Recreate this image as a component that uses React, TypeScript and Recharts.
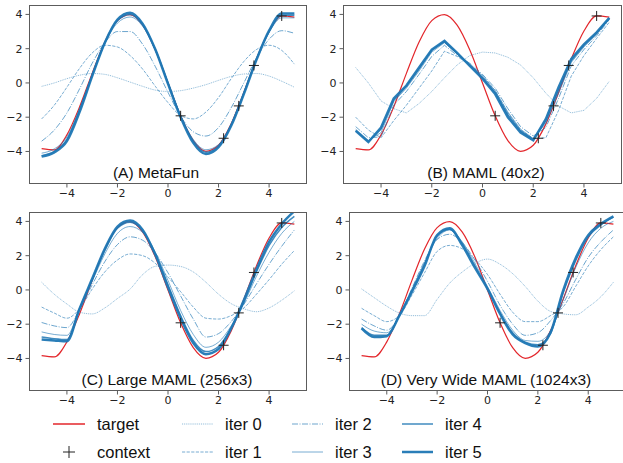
import { ComposedChart, Line, Scatter, XAxis, YAxis } from "recharts";

// sample grid shared by every curve
const xs = [-5, -4.5, -4, -3.5, -3, -2.5, -2, -1.5, -1, -0.5, 0, 0.5, 1, 1.5, 2, 2.5, 3, 3.5, 4, 4.5, 5];

const target = [-3.84, -3.91, -3.03, -1.4, 0.56, 2.39, 3.64, 3.99, 3.37, 1.92, 0, -1.92, -3.37, -3.99, -3.64, -2.39, -0.56, 1.4, 3.03, 3.91, 3.84];

const contextX = [0.5, 2.2, 2.8, 3.4, 4.5];
const contextY = [-1.92, -3.23, -1.34, 1.02, 3.91];

// (A) MetaFun
const metaFunIter0 = [-0.2, 0.0, 0.25, 0.45, 0.55, 0.5, 0.3, 0.05, -0.2, -0.42, -0.5, -0.45, -0.3, -0.1, 0.15, 0.38, 0.52, 0.55, 0.4, 0.1, -0.25];
const metaFunIter1 = [-2.1, -1.3, -0.25, 0.85, 1.75, 2.2, 2.1, 1.6, 0.8, -0.2, -1.15, -1.9, -2.1, -1.7, -0.85, 0.25, 1.25, 1.95, 2.2, 1.9, 1.1];
const metaFunIter2 = [-3.4, -2.75, -1.75, -0.35, 1.15, 2.35, 3.0, 3.0, 2.25, 0.95, -0.55, -1.95, -2.85, -3.1, -2.6, -1.45, 0.0, 1.45, 2.55, 3.05, 2.9];
const metaFunIter3 = [-4.1, -3.85, -3.15, -1.5, 0.45, 2.3, 3.5, 3.85, 3.3, 1.9, 0.0, -1.9, -3.3, -3.9, -3.6, -2.4, -0.6, 1.35, 2.95, 3.8, 3.8];
const metaFunIter4 = [-4.25, -4.0, -3.3, -1.6, 0.45, 2.35, 3.65, 4.0, 3.4, 1.95, 0.0, -1.95, -3.4, -4.05, -3.7, -2.45, -0.6, 1.4, 3.0, 3.95, 3.95];
const metaFunIter5 = [-4.3, -4.05, -3.4, -1.7, 0.4, 2.35, 3.7, 4.1, 3.45, 1.95, -0.05, -2.0, -3.5, -4.15, -3.75, -2.5, -0.65, 1.35, 3.05, 4.05, 4.05];

// (B) MAML (40x2)
const mamlIter0 = [0.9, 0.0, -1.05, -1.5, -1.75, -1.2, -0.5, 0.3, 1.05, 1.6, 1.8, 1.75, 1.5, 1.05, 0.3, -0.6, -1.35, -1.75, -1.6, -0.9, 0.1];
const mamlIter1 = [-2.0, -2.75, -3.2, -2.2, -1.3, -0.3, 0.7, 1.85, 1.55, 1.05, 0.45, -0.45, -1.75, -2.75, -3.25, -3.2, -1.6, 0.4, 1.6, 2.6, 3.55];
const mamlIter2 = [-2.55, -3.2, -3.15, -1.3, -0.5, 0.5, 1.55, 2.2, 1.6, 1.15, 0.5, -0.3, -1.5, -2.55, -3.1, -2.6, -0.9, 1.0, 1.95, 2.75, 3.7];
const mamlIter3 = [-2.7, -3.35, -2.9, -1.1, -0.3, 0.7, 1.8, 2.35, 1.7, 1.1, 0.4, -0.45, -1.7, -2.7, -3.25, -2.35, -0.6, 1.2, 2.1, 2.85, 3.75];
const mamlIter4 = [-2.78, -3.42, -2.7, -1.0, -0.2, 0.82, 1.9, 2.42, 1.72, 1.05, 0.3, -0.55, -1.85, -2.8, -3.3, -2.2, -0.4, 1.3, 2.2, 2.9, 3.78];
const mamlIter5 = [-2.8, -3.45, -2.6, -0.9, -0.15, 0.9, 1.95, 2.45, 1.75, 1.0, 0.25, -0.65, -2.0, -2.9, -3.35, -2.1, -0.25, 1.4, 2.25, 2.95, 3.8];

// (C) Large MAML (256x3)
const largeIter0 = [0.45, -0.25, -0.82, -1.3, -1.4, -1.05, -0.5, 0.05, 0.9, 1.38, 1.45, 1.37, 1.05, 0.45, -0.25, -0.8, -1.1, -1.27, -1.05, -0.6, -0.05];
const largeIter1 = [-1.0, -1.35, -1.65, -1.1, 0.05, 1.05, 1.75, 2.1, 2.0, 1.55, 0.75, -0.1, -1.0, -1.65, -1.7, -1.5, -1.05, -0.25, 0.6, 1.5, 2.3];
const largeIter2 = [-1.9, -2.1, -2.2, -1.15, 0.3, 1.65, 2.65, 3.1, 2.9, 2.15, 1.0, -0.35, -1.7, -2.75, -2.55, -1.85, -0.85, 0.35, 1.5, 2.55, 3.5];
const largeIter3 = [-2.45, -2.6, -2.65, -1.1, 0.5, 2.1, 3.3, 3.7, 3.35, 2.2, 0.55, -1.2, -2.6, -3.35, -3.05, -2.1, -0.8, 0.8, 2.2, 3.3, 4.0];
const largeIter4 = [-2.75, -2.85, -2.9, -1.1, 0.6, 2.3, 3.6, 3.95, 3.45, 2.1, 0.3, -1.5, -2.95, -3.6, -3.3, -2.2, -0.7, 1.05, 2.6, 3.65, 4.3];
const largeIter5 = [-2.9, -2.95, -3.0, -1.1, 0.65, 2.4, 3.7, 4.05, 3.5, 2.05, 0.15, -1.65, -3.1, -3.75, -3.45, -2.25, -0.6, 1.2, 2.8, 3.85, 4.6];

// (D) Very Wide MAML (1024x3)
const wideIter0 = [0.06, -0.45, -0.95, -1.35, -1.5, -1.5, -0.55, 0.4, 1.05, 1.55, 1.8, 1.5, 0.95, 0.2, -0.65, -1.25, -1.4, -1.45, -1.0, -0.4, 0.45];
const wideIter1 = [-1.07, -1.5, -1.85, -1.5, -0.3, 1.0, 2.25, 2.6, 2.4, 1.8, 0.9, -0.25, -1.3, -1.85, -1.85, -1.5, -1.0, 0.2, 1.4, 2.35, 3.1];
const wideIter2 = [-1.7, -2.1, -2.35, -1.5, 0.1, 1.7, 2.95, 3.25, 2.75, 1.75, 0.5, -0.9, -2.0, -2.65, -2.5, -1.8, -0.8, 0.6, 1.9, 2.8, 3.5];
const wideIter3 = [-2.0, -2.4, -2.5, -1.5, 0.05, 1.6, 3.0, 3.5, 2.8, 1.55, 0.2, -1.2, -2.35, -2.95, -3.0, -2.4, -0.6, 1.3, 2.75, 3.6, 4.0];
const wideIter4 = [-2.2, -2.65, -2.65, -1.5, -0.05, 1.5, 3.15, 3.55, 2.7, 1.4, 0.1, -1.35, -2.5, -3.05, -3.2, -2.55, -0.2, 1.7, 3.1, 3.8, 4.25];
const wideIter5 = [-2.25, -2.75, -2.7, -1.5, -0.1, 1.4, 3.2, 3.6, 2.6, 1.3, 0.06, -1.4, -2.6, -3.1, -3.3, -2.5, -0.05, 1.85, 3.2, 3.85, 4.3];

const ticks = [-4, -2, 0, 2, 4];

const BLUE = "#1f77b4";
const RED = "#e3262b";
const SPINE = "#5c5c5c";
const FONT = "'Liberation Sans', Arial, sans-serif";
const TICK_FONT = "'DejaVu Sans', sans-serif";

const iterStyles = [
  { dash: "1 0.9", opacity: 0.5, width: 1 },
  { dash: "3.2 1.4", opacity: 0.6, width: 1 },
  { dash: "6 1.5 1 1.5", opacity: 0.65, width: 1 },
  { dash: undefined, opacity: 0.6, width: 1 },
  { dash: undefined, opacity: 0.85, width: 1.5 },
  { dash: undefined, opacity: 0.95, width: 2.5 },
];

const fmt = (v: number) => (v < 0 ? "\u2212" + Math.abs(v) : String(v));

const Plus = (props: any) => {
  const { cx, cy } = props;
  if (cx == null || cy == null) return null;
  return (
    <path
      d={`M${cx - 5},${cy}H${cx + 5}M${cx},${cy - 5}V${cy + 5}`}
      stroke="#222"
      strokeWidth={1}
    />
  );
};

interface PanelProps {
  left: number;
  top: number;
  width: number;
  marginRight: number;
  iters: number[][];
  curve: "monotone" | "linear";
}

const HEIGHT = 205;

function Panel({ left, top, width, marginRight, iters, curve }: PanelProps) {
  const rows = xs.map((x, i) => {
    const row: Record<string, number> = { x, target: target[i] };
    iters.forEach((s, k) => (row["iter" + k] = s[i]));
    return row;
  });
  const context = contextX.map((x, i) => ({ x, y: contextY[i] }));
  const tickStyle = { fontSize: 11, fill: "#222", fontFamily: TICK_FONT };

  return (
    <div style={{ position: "absolute", left, top }}>
      <ComposedChart
        width={width}
        height={HEIGHT}
        data={rows}
        margin={{ top: 5, right: marginRight, left: 0, bottom: 0 }}
      >
        <XAxis
          type="number"
          dataKey="x"
          domain={[-5.5, 5.5]}
          ticks={ticks}
          interval={0}
          allowDataOverflow
          axisLine={false}
          tickLine={{ stroke: SPINE }}
          tickSize={3.5}
          tickMargin={2}
          height={21}
          tick={tickStyle}
          tickFormatter={fmt}
        />
        <YAxis
          type="number"
          domain={[-5.9, 4.55]}
          ticks={ticks}
          interval={0}
          allowDataOverflow
          axisLine={false}
          tickLine={{ stroke: SPINE }}
          tickSize={3.5}
          tickMargin={3}
          width={29}
          tick={tickStyle}
          tickFormatter={fmt}
        />
        <Line
          dataKey="target"
          type="monotone"
          stroke={RED}
          strokeWidth={1.2}
          dot={false}
          activeDot={false}
          isAnimationActive={false}
        />
        {iters.map((_, k) => (
          <Line
            key={k}
            dataKey={"iter" + k}
            type={curve}
            stroke={BLUE}
            strokeOpacity={iterStyles[k].opacity}
            strokeWidth={iterStyles[k].width}
            strokeDasharray={iterStyles[k].dash}
            dot={false}
            activeDot={false}
            isAnimationActive={false}
          />
        ))}
        <Scatter data={context} dataKey="y" shape={Plus} isAnimationActive={false} />
      </ComposedChart>
    </div>
  );
}

const panels = [
  { left: 0, top: 0, width: 310, marginRight: 3, curve: "monotone" as const, title: "(A) MetaFun", titleX: 156, iters: [metaFunIter0, metaFunIter1, metaFunIter2, metaFunIter3, metaFunIter4, metaFunIter5] },
  { left: 314, top: 0, width: 310, marginRight: 2, curve: "linear" as const, title: "(B) MAML (40x2)", titleX: 486, iters: [mamlIter0, mamlIter1, mamlIter2, mamlIter3, mamlIter4, mamlIter5] },
  { left: 0, top: 207, width: 310, marginRight: 3, curve: "monotone" as const, title: "(C) Large MAML (256x3)", titleX: 167, iters: [largeIter0, largeIter1, largeIter2, largeIter3, largeIter4, largeIter5] },
  { left: 320, top: 207, width: 306, marginRight: 0, curve: "monotone" as const, title: "(D) Very Wide MAML (1024x3)", titleX: 486, iters: [wideIter0, wideIter1, wideIter2, wideIter3, wideIter4, wideIter5] },
];

const legendItems = [
  { label: "iter 0", k: 0, col: 0, row: 0 },
  { label: "iter 1", k: 1, col: 0, row: 1 },
  { label: "iter 2", k: 2, col: 1, row: 0 },
  { label: "iter 3", k: 3, col: 1, row: 1 },
  { label: "iter 4", k: 4, col: 2, row: 0 },
  { label: "iter 5", k: 5, col: 2, row: 1 },
];

export default function App() {
  return (
    <div
      style={{
        position: "absolute",
        left: 0,
        top: 0,
        width: 623,
        height: 463,
        overflow: "hidden",
        background: "#fff",
      }}
    >
      {panels.map((p, i) => (
        <Panel key={i} {...p} />
      ))}
      <svg
        width={623}
        height={463}
        style={{ position: "absolute", left: 0, top: 0, pointerEvents: "none" }}
      >
        {panels.map((p, i) => {
          const x0 = p.left + 29;
          const x1 = p.left + p.width - p.marginRight;
          const y0 = p.top + 5;
          const y1 = p.top + HEIGHT - 21;
          return (
            <g key={i}>
              <rect
                x={x0 + 0.5}
                y={y0 + 0.5}
                width={x1 - x0 - 1}
                height={y1 - y0 - 1}
                fill="none"
                stroke={SPINE}
                strokeWidth={1}
              />
              <text
                x={p.titleX}
                y={y1 - 6}
                textAnchor="middle"
                fontFamily={FONT}
                fontSize={15.5}
                fill="#111"
              >
                {p.title}
              </text>
            </g>
          );
        })}
        <g fontFamily={FONT} fontSize={16.5} fill="#111">
          <line x1={53} x2={85} y1={424} y2={424} stroke={RED} strokeWidth={1.5} />
          <text x={97} y={430}>target</text>
          <path d="M63,452H75M69,446V458" stroke="#222" strokeWidth={1} />
          <text x={97} y={458}>context</text>
          {legendItems.map((it) => {
            const lx = 182 + it.col * 110;
            const ly = 424 + it.row * 28;
            const s = iterStyles[it.k];
            return (
              <g key={it.k}>
                <line
                  x1={lx}
                  x2={lx + 31}
                  y1={ly}
                  y2={ly}
                  stroke={BLUE}
                  strokeOpacity={s.opacity}
                  strokeWidth={s.width}
                  strokeDasharray={s.dash}
                />
                <text x={lx + 43} y={ly + 6}>
                  {it.label}
                </text>
              </g>
            );
          })}
        </g>
      </svg>
    </div>
  );
}
